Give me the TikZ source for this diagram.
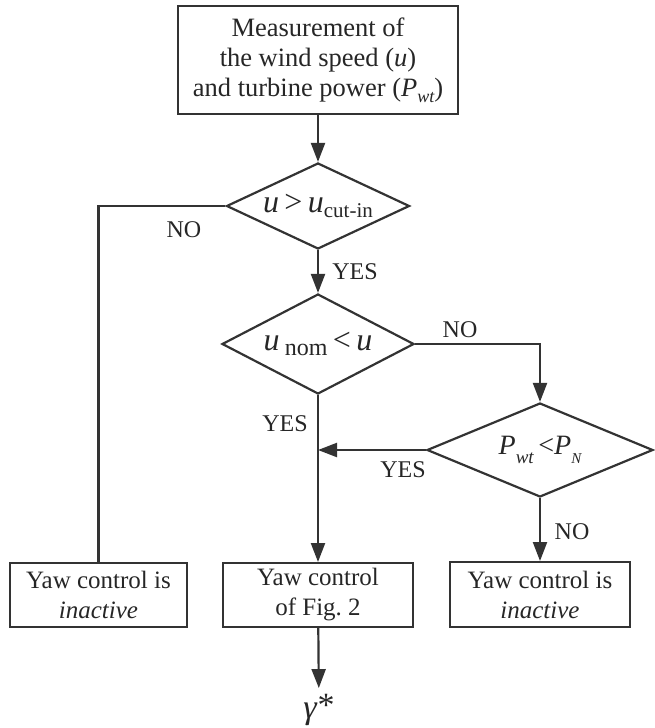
\documentclass[tikz,border=0pt]{standalone}
\usepackage{fontspec}
\setmainfont{Liberation Serif}
\usetikzlibrary{arrows.meta,positioning,shapes.geometric}
\newcommand{\lowsub}[3]{\raisebox{-#1}{\fontsize{#2}{#2}\selectfont #3}}

\begin{document}
\begin{tikzpicture}[
    x=1pt, y=-1pt,
    box/.style={draw=black!80, line width=2pt, rectangle, align=center, inner sep=0pt, text=black!85, font=\fontsize{25}{30}\selectfont},
    cond/.style={draw=black!80, line width=2.2pt, diamond, inner sep=0pt},
    condtext/.style={text=black!85, font=\fontsize{32}{32}\selectfont},
    lbl/.style={text=black!85, font=\fontsize{24}{24}\selectfont},
    arr/.style={-{Triangle[length=19pt,width=14pt]}, line width=2.2pt, draw=black!80},
    wire/.style={line width=2.2pt, draw=black!80}
]
\useasboundingbox (0,0) rectangle (654,728);

% measurement
\node[box, minimum width=280pt, minimum height=108pt, font=\fontsize{26.5}{30}\selectfont] (meas) at (318,60)
    {Measurement of\\ the wind speed (\textit{u})\\ and turbine power (\textit{P}\lowsub{6pt}{18}{\itshape wt})};

% conditions
\node[cond, minimum width=183pt, minimum height=86pt,
    label={[condtext]center:\textit{u}\,>\,\textit{u}\lowsub{5pt}{21}{cut-in}}] (cutin) at (318,206) {};
\node[cond, minimum width=192pt, minimum height=100pt,
    label={[condtext]center:\textit{u}\,\lowsub{5pt}{24}{nom}\,<\,\textit{u}}] (nom) at (318,344) {};
\node[cond, minimum width=226pt, minimum height=94pt,
    label={[condtext, font=\fontsize{28}{28}\selectfont]center:\textit{P}\lowsub{9pt}{19}{\itshape wt}\,<\textit{P}\lowsub{9pt}{15}{\itshape N}}] (pn) at (540,450) {};

% yaw control boxes
\node[box, minimum width=177pt, minimum height=64pt] (offleft) at (98.5,595) {Yaw control is\\ \textit{inactive}};
\node[box, minimum width=190pt, minimum height=64pt] (yawctl) at (318,595) {Yaw control\\ of Fig.~2};
\node[box, minimum width=180pt, minimum height=65pt] (offright) at (540,594.5) {Yaw control is\\ \textit{inactive}};

% output
\node[text=black!85, font=\fontsize{34}{34}\selectfont, inner ysep=6pt] (gam) at (319,710) {\textit{γ}\raisebox{2pt}{*}};

% connectors
\draw[arr] (meas) -- (cutin);
\draw[wire] (cutin.west) -| (offleft.north);
\draw[arr] (cutin) -- (nom);
\draw[arr] (nom.east) -| (pn.north);
\draw[arr] (nom) -- (yawctl);
\draw[arr] (pn.west) -- (pn.west -| yawctl.north);
\draw[arr] (pn) -- (offright);
\draw[arr] (yawctl) -- (gam);

% labels
\node[lbl] (no1) at (184,230) {NO};
\node[lbl] (yes1) at (355,272) {YES};
\node[lbl] (no2) at (460,330) {NO};
\node[lbl] (yes2) at (285,424) {YES};
\node[lbl] (yes3) at (403,470) {YES};
\node[lbl] (no3) at (572,532) {NO};

\end{tikzpicture}
\end{document}
